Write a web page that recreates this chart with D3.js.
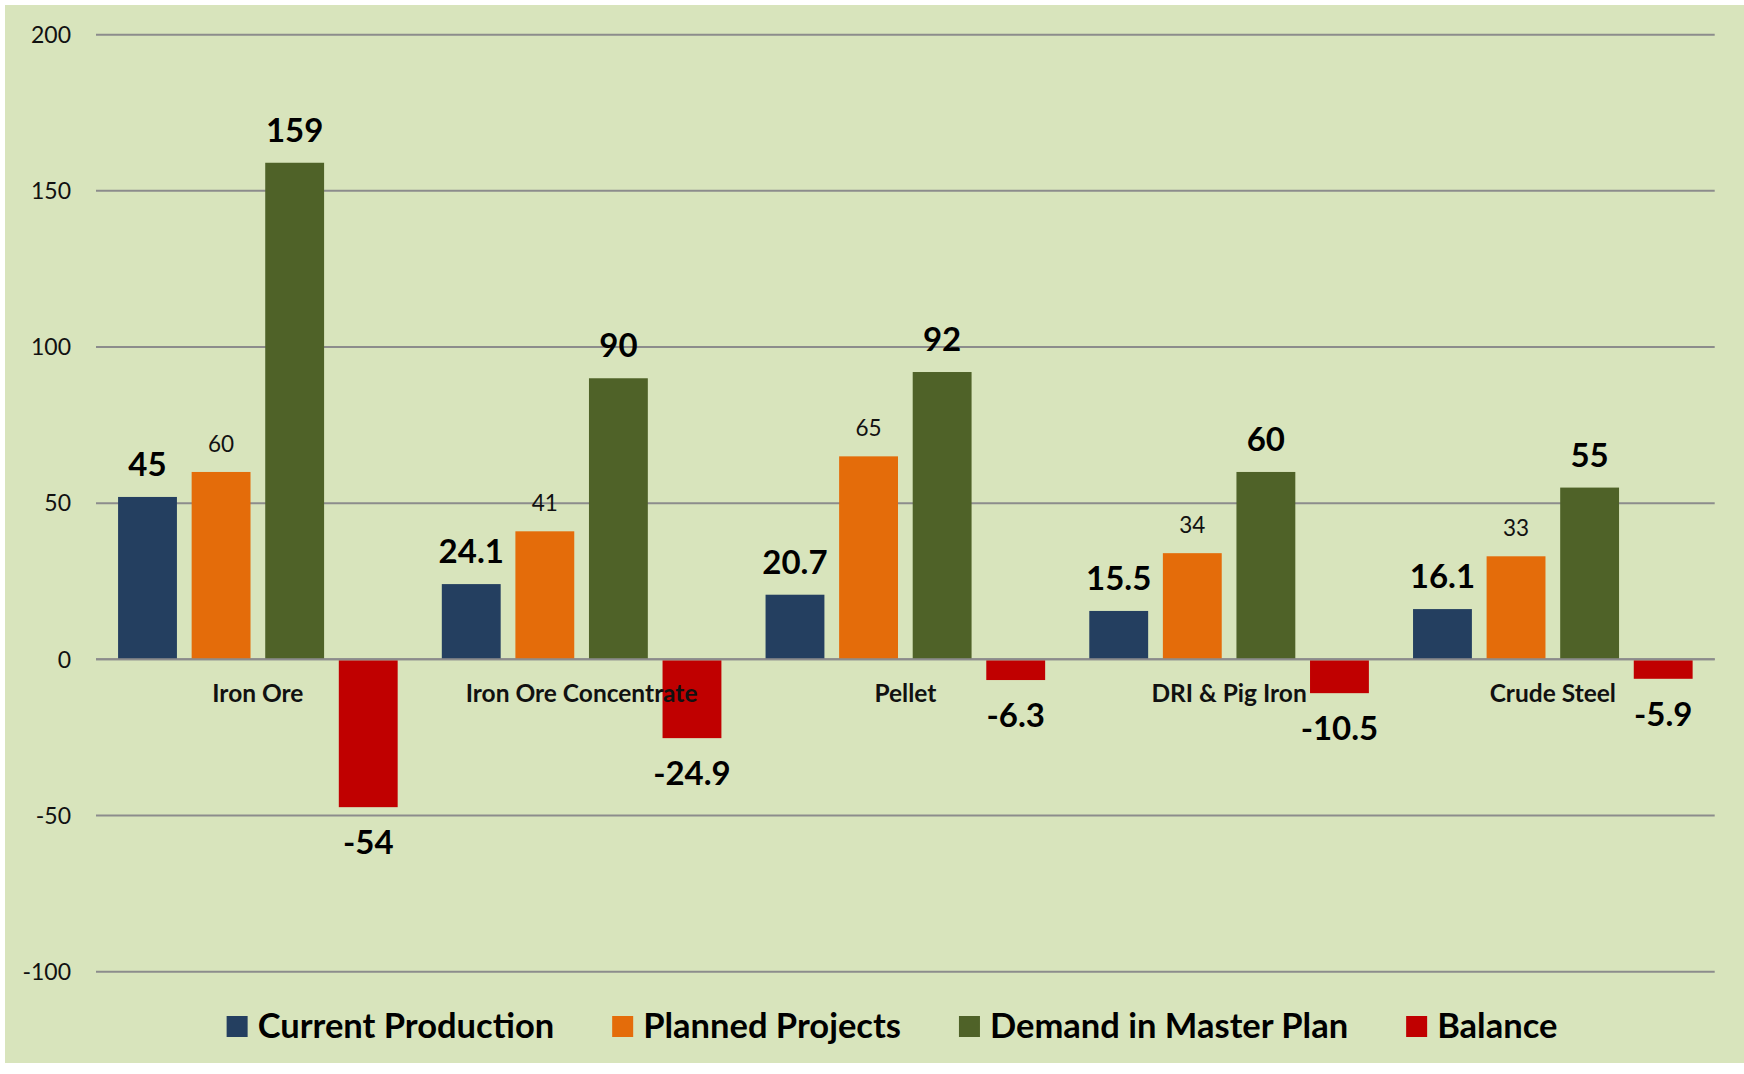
<!DOCTYPE html>
<html>
<head>
<script src="https://d3js.org/d3.v7.min.js"></script>
<meta charset="utf-8">
<style>
body {
  margin: 0;
  background: white;
  font-family: Lato, "Open Sans", sans-serif;
}
.grid line {
  stroke: #8c8c8c;
  stroke-width: 2px;
}
.tick-label {
  font-size: 23px;
  fill: #111;
}
.cat-label {
  font-size: 24.5px;
  font-weight: bold;
  fill: #111;
}
.val-big {
  font-size: 33px;
  font-weight: bold;
  fill: #000;
}
.val-small {
  font-size: 22.5px;
  fill: #111;
}
.legend text {
  font-size: 34.5px;
  font-weight: bold;
  fill: #000;
}
</style>
</head>
<body>
<div class="chart"></div>

<script>

// categories and series
var categories = ["Iron Ore", "Iron Ore Concentrate", "Pellet", "DRI & Pig Iron", "Crude Steel"];
var seriesNames = ["Current Production", "Planned Projects", "Demand in Master Plan", "Balance"];
var colors = ["#243f60", "#e46c0a", "#4f6228", "#c00000"];

// bar heights as drawn in the picture
var current = [52, 24.1, 20.7, 15.5, 16.1];
var planned = [60, 41, 65, 34, 33];
var demand = [159, 90, 92, 60, 55];
var balance = [-47, -24.9, -6.3, -10.5, -5.9];

// data labels as printed
var currentLabels = ["45", "24.1", "20.7", "15.5", "16.1"];
var plannedLabels = ["60", "41", "65", "34", "33"];
var demandLabels = ["159", "90", "92", "60", "55"];
var balanceLabels = ["-54", "-24.9", "-6.3", "-10.5", "-5.9"];

var yTicks = [-100, -50, 0, 50, 100, 150, 200];

var width = 1744,
    height = 1074,
    left = 96,
    right = 1714.7;

var svg = d3.select(".chart")
  .append("svg")
  .attr("width", width)
  .attr("height", height);

// green panel
svg.append("rect")
  .attr("x", 5)
  .attr("y", 5)
  .attr("width", width - 5)
  .attr("height", 1058)
  .attr("fill", "#d8e4bc");

var y = d3.scaleLinear()
  .domain([-100, 200])
  .range([971.7, 34.7]);

var x0 = d3.scaleBand()
  .domain(categories)
  .range([left, right]);

var x1 = d3.scaleBand()
  .domain(d3.range(4))
  .range([0, x0.bandwidth()])
  .paddingInner(0.2)
  .paddingOuter(0.3);

// gridlines
var grid = svg.append("g").attr("class", "grid");
grid.selectAll("line")
  .data(yTicks)
  .enter().append("line")
  .attr("x1", left)
  .attr("x2", right)
  .attr("y1", function(d) { return y(d); })
  .attr("y2", function(d) { return y(d); });

svg.selectAll(".tick-label")
  .data(yTicks)
  .enter().append("text")
  .attr("class", "tick-label")
  .attr("x", 71)
  .attr("y", function(d) { return y(d); })
  .attr("dy", "0.36em")
  .attr("text-anchor", "end")
  .text(function(d) { return d; });

// build rows for bars
var values = [current, planned, demand, balance];
var labels = [currentLabels, plannedLabels, demandLabels, balanceLabels];
var rows = [];
categories.forEach(function(c, i) {
  for (var s = 0; s < 4; s++) {
    rows.push({cat: c, s: s, v: values[s][i], label: labels[s][i]});
  }
});

svg.selectAll(".bar")
  .data(rows)
  .enter().append("rect")
  .attr("class", "bar")
  .attr("x", function(d) { return x0(d.cat) + x1(d.s); })
  .attr("width", x1.bandwidth())
  .attr("y", function(d) { return d.v >= 0 ? y(d.v) : y(0) + 1; })
  .attr("height", function(d) { return Math.abs(y(d.v) - y(0)); })
  .attr("fill", function(d) { return colors[d.s]; });

// zero line on top of bars
svg.append("line")
  .attr("x1", left)
  .attr("x2", right)
  .attr("y1", y(0))
  .attr("y2", y(0))
  .attr("stroke", "#8c8c8c")
  .attr("stroke-width", 2);

// value labels
svg.selectAll(".val")
  .data(rows)
  .enter().append("text")
  .attr("class", function(d) { return d.s == 1 ? "val-small" : "val-big"; })
  .attr("x", function(d) { return x0(d.cat) + x1(d.s) + x1.bandwidth() / 2; })
  .attr("y", function(d) {
    if (d.v < 0) return y(d.v) + 48;
    return y(d.v) - (d.s == 1 ? 20 : 21);
  })
  .attr("text-anchor", "middle")
  .text(function(d) { return d.label; });

// category labels
svg.selectAll(".cat-label")
  .data(categories)
  .enter().append("text")
  .attr("class", "cat-label")
  .attr("x", function(d) { return x0(d) + x0.bandwidth() / 2; })
  .attr("y", 702)
  .attr("text-anchor", "middle")
  .text(function(d) { return d; });

// legend
var legend = svg.append("g").attr("class", "legend");
var items = legend.selectAll("g")
  .data(seriesNames)
  .enter().append("g");

items.append("rect")
  .attr("width", 21)
  .attr("height", 21)
  .attr("y", 1016)
  .attr("fill", function(d, i) { return colors[i]; });

items.append("text")
  .attr("x", 31)
  .attr("y", 1038)
  .text(function(d) { return d; });

var pos = 0;
var offsets = [];
items.each(function() {
  offsets.push(pos);
  var w = d3.select(this).select("text").node().getComputedTextLength();
  pos += 31 + w + 58;
});
var total = pos - 58;
var start = 892 - total / 2;
items.attr("transform", function(d, i) { return "translate(" + (start + offsets[i]) + ",0)"; });

</script>
</body>
</html>
